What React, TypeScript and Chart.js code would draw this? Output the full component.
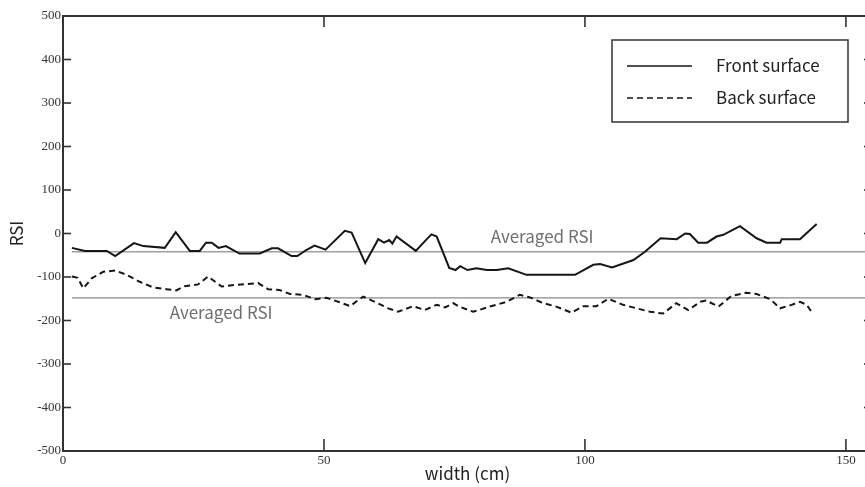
import React, { useEffect, useRef } from "react";
import { Chart, registerables } from "chart.js";

Chart.register(...registerables);

const frontX = [1.7, 4.2, 8.4, 10, 13.6, 15.4, 19.5, 21.6, 24.3, 26.2, 27.4, 28.5, 29.8, 31.2, 33.8, 37.7, 40, 41.2, 43.8, 44.9, 46.6, 48.2, 50.3, 54, 55.3, 57.9, 60.4, 61.5, 62.5, 63.1, 63.9, 67.6, 69.7, 70.6, 71.6, 74, 75.2, 76.1, 77.5, 79.2, 81.2, 83.1, 85.3, 88.8, 98.1, 101.6, 102.9, 105.2, 109.3, 111.5, 114.5, 117.6, 119.2, 120.1, 121.7, 123.4, 125.2, 126.5, 129.7, 132.9, 134.8, 137.4, 137.7, 141.2, 144.4];
const frontY = [-33, -40, -40, -52, -22, -29, -33, 3, -40, -40, -21, -21, -33, -29, -46, -46, -34, -34, -52, -52, -38, -28, -37, 6, 2, -68, -13, -21, -15, -23, -7, -40, -13, -2, -7, -79, -84, -75, -84, -80, -84, -84, -80, -95, -95, -72, -70, -78, -61, -42, -11, -13, 0, -1, -21, -21, -7, -3, 17, -11, -21, -21, -13, -13, 22];

const backX = [1.7, 2.8, 3.9, 5.5, 7.7, 10, 12.2, 14.7, 17.3, 19.8, 21.7, 23.3, 25.9, 27.8, 30.4, 33.2, 37.4, 39.3, 41.5, 43.5, 46, 48.3, 50.5, 53, 55, 57.5, 60.1, 62.3, 64.2, 67.1, 69.3, 71.6, 73.2, 74.8, 75.7, 78.6, 81.8, 85, 87.5, 89.5, 92, 94.5, 97.4, 99.7, 102.2, 104.5, 107.3, 109.9, 112.5, 115, 117.5, 119.8, 122.1, 123.2, 125.6, 128, 130.9, 132.9, 135.5, 137.4, 139.6, 141.2, 142.5, 143.7];
const backY = [-99, -102, -126, -103, -88, -85, -95, -111, -124, -128, -131, -121, -117, -99, -122, -118, -114, -128, -130, -139, -141, -151, -148, -158, -167, -145, -159, -172, -180, -167, -176, -164, -170, -160, -167, -180, -168, -157, -141, -147, -160, -168, -182, -167, -167, -150, -164, -172, -180, -184, -160, -176, -157, -154, -168, -144, -136, -139, -151, -172, -164, -157, -164, -185];

const avgFront = -42;
const avgBack = -148;
const avgLineX = [1.7, 155];

const xTicks = [0, 50, 100, 150];
const yTicks = [-500, -400, -300, -200, -100, 0, 100, 200, 300, 400, 500];

const seriesLabels = ["Front surface", "Back surface"];
const avgText = "Averaged RSI";
const avgFrontLabelX = 91.8;
const avgBackLabelX = 30.3;

const SANS = "'Noto Sans CJK KR', 'Noto Sans', sans-serif";
const SERIF = "'Liberation Serif', 'DejaVu Serif', serif";

const framePlugin = {
  id: "frame",
  afterDatasetsDraw(chart: any) {
    const { ctx, chartArea: a, scales } = chart;
    const xs = scales.x;
    const ys = scales.y;
    ctx.save();
    ctx.strokeStyle = "#333";
    ctx.lineWidth = 2;
    ctx.strokeRect(a.left, a.top, a.right - a.left, a.bottom - a.top);
    ctx.lineWidth = 1.6;
    const seg = (x1: number, y1: number, x2: number, y2: number) => {
      ctx.beginPath();
      ctx.moveTo(x1, y1);
      ctx.lineTo(x2, y2);
      ctx.stroke();
    };
    ys.ticks.forEach((t: any) => {
      if (t.value === -500 || t.value === 500) return;
      const py = ys.getPixelForValue(t.value);
      seg(a.left, py, a.left + 8, py);
      seg(a.right, py, a.right - 8, py);
    });
    xs.ticks.forEach((t: any) => {
      if (t.value === 0) return;
      const px = xs.getPixelForValue(t.value);
      seg(px, a.bottom, px, a.bottom - 12);
      seg(px, a.top, px, a.top + 11);
    });

    // averaged labels
    ctx.fillStyle = "#6f6f6f";
    ctx.font = `17px ${SANS}`;
    ctx.textAlign = "center";
    ctx.textBaseline = "middle";
    ctx.fillText(avgText, xs.getPixelForValue(avgFrontLabelX), ys.getPixelForValue(avgFront) - 15);
    ctx.fillText(avgText, xs.getPixelForValue(avgBackLabelX), ys.getPixelForValue(avgBack) + 15);

    // legend
    const bx1 = a.right - 260;
    const bx2 = a.right - 24;
    const by1 = a.top + 24;
    const by2 = a.top + 106;
    ctx.lineWidth = 1.5;
    ctx.strokeStyle = "#333";
    ctx.strokeRect(bx1, by1, bx2 - bx1, by2 - by1);
    const rows = [by1 + 26, by1 + 58];
    seriesLabels.forEach((lab, i) => {
      const ds = chart.data.datasets[i];
      ctx.save();
      ctx.strokeStyle = ds.borderColor;
      ctx.lineWidth = 1.7;
      ctx.setLineDash(ds.borderDash || []);
      seg(bx1 + 15, rows[i], bx1 + 80, rows[i]);
      ctx.restore();
      ctx.fillStyle = "#222";
      ctx.textAlign = "left";
      ctx.textBaseline = "middle";
      ctx.font = `17px ${SANS}`;
      ctx.fillText(lab, bx1 + 104, rows[i]);
    });
    ctx.restore();
  },
};

export default function App() {
  const ref = useRef<HTMLCanvasElement | null>(null);
  useEffect(() => {
    if (!ref.current) return;
    const chart = new Chart(ref.current, {
      type: "line",
      data: {
        datasets: [
          {
            label: seriesLabels[0],
            data: frontX.map((x, i) => ({ x, y: frontY[i] })),
            borderColor: "#161616",
            borderWidth: 2,
            pointRadius: 0,
            tension: 0,
          },
          {
            label: seriesLabels[1],
            data: backX.map((x, i) => ({ x, y: backY[i] })),
            borderColor: "#161616",
            borderWidth: 2,
            borderDash: [6, 4],
            pointRadius: 0,
            tension: 0,
          },
          {
            label: "avgFront",
            data: avgLineX.map((x) => ({ x, y: avgFront })),
            borderColor: "#a0a0a0",
            borderWidth: 1.3,
            pointRadius: 0,
          },
          {
            label: "avgBack",
            data: avgLineX.map((x) => ({ x, y: avgBack })),
            borderColor: "#8a8a8a",
            borderWidth: 1.1,
            pointRadius: 0,
          },
        ],
      },
      options: {
        animation: false,
        responsive: false,
        devicePixelRatio: 1,
        layout: { padding: { top: 16, right: 8, left: 0, bottom: 0 } },
        plugins: { legend: { display: false }, tooltip: { enabled: false } },
        scales: {
          x: {
            type: "linear",
            min: 0,
            max: 155,
            afterBuildTicks: (s: any) => {
              s.ticks = xTicks.map((v) => ({ value: v }));
            },
            afterFit: (s: any) => {
              s.height = 36;
            },
            grid: { display: false, drawTicks: false },
            border: { display: false },
            ticks: {
              padding: 2,
              maxRotation: 0,
              autoSkip: false,
              color: "#333",
              font: { family: SERIF, size: 13 },
            },
            title: {
              display: true,
              text: "width (cm)",
              color: "#222",
              font: { family: SANS, size: 17 },
              padding: { top: 0, bottom: 3 },
            },
          },
          y: {
            type: "linear",
            min: -500,
            max: 500,
            afterBuildTicks: (s: any) => {
              s.ticks = yTicks.map((v) => ({ value: v }));
            },
            afterFit: (s: any) => {
              s.width = 63;
            },
            grid: { display: false, drawTicks: false },
            border: { display: false },
            ticks: {
              padding: 2,
              autoSkip: false,
              color: "#333",
              font: { family: SERIF, size: 13 },
            },
            title: {
              display: true,
              text: "RSI",
              color: "#222",
              font: { family: SANS, size: 17 },
              padding: { top: 6, bottom: 0 },
            },
          },
        },
      },
      plugins: [framePlugin],
    } as any);
    return () => chart.destroy();
  }, []);
  return (
    <div style={{ position: "fixed", left: 0, top: 0, width: 865, height: 487, overflow: "hidden", background: "#fff" }}>
      <canvas ref={ref} width={880} height={487} style={{ display: "block" }} />
    </div>
  );
}
